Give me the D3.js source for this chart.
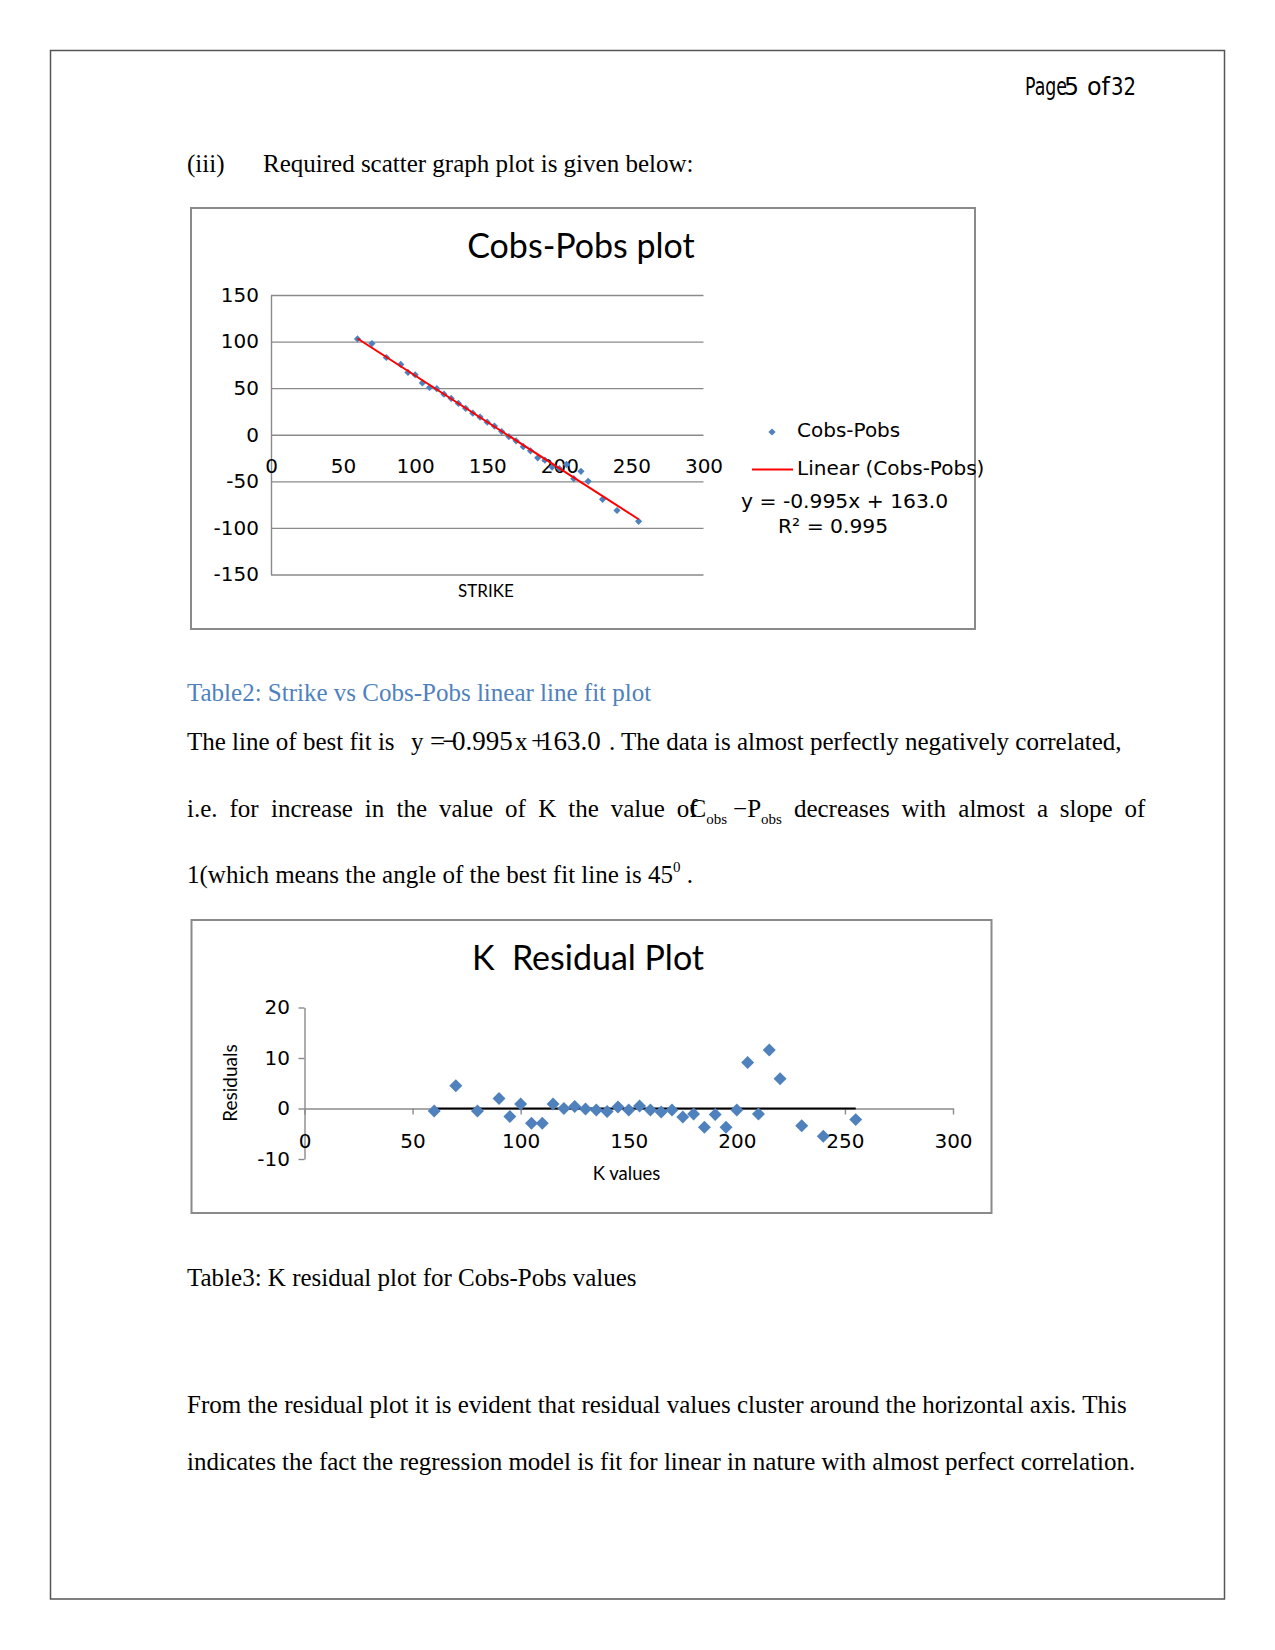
<!DOCTYPE html>
<html>
<head>
<meta charset="utf-8">
<script src="https://cdn.jsdelivr.net/npm/d3@7"></script>
<style>
  html, body { margin: 0; padding: 0; background: #fff; }
  svg { display: block; }
  text { white-space: pre; }
</style>
</head>
<body>
<svg id="page" width="1275" height="1650"></svg>
<script>
// ---------------- DATA ----------------
const kValues = [60, 70, 80, 90, 95, 100, 105, 110, 115, 120, 125, 130, 135, 140, 145, 150, 155,
                 160, 165, 170, 175, 180, 185, 190, 195, 200, 205, 210, 215, 220, 230, 240, 255];
const cobsPobs = [102.8, 97.9, 82.9, 75.5, 66.9, 64.4, 55.6, 50.7, 49.5, 43.6, 39.0, 33.6, 28.4, 23.1, 19.0, 13.5, 9.3,
                  3.5, -1.9, -6.5, -12.8, -17.2, -24.8, -27.3, -34.7, -36.3, -31.9, -47.1, -39.3, -50.0, -69.3, -81.3, -92.9];
const residuals = [-0.5, 4.5, -0.5, 2.0, -1.6, 0.9, -2.9, -2.9, 0.9, 0.0, 0.4, -0.1, -0.3, -0.6, 0.3, -0.3, 0.5,
                   -0.3, -0.7, -0.3, -1.7, -1.1, -3.7, -1.2, -3.7, -0.3, 9.1, -1.1, 11.6, 5.9, -3.4, -5.5, -2.2];
const trendSlope = -0.995;
const trendIntercept = 163.0;
const xTicks = [0, 50, 100, 150, 200, 250, 300];
const yTicksPlot1 = [-150, -100, -50, 0, 50, 100, 150];
const yTicksPlot2 = [-10, 0, 10, 20];
const title1 = "Cobs-Pobs plot";
const title2 = "K  Residual Plot";
const legendLabels = ["Cobs-Pobs", "Linear (Cobs-Pobs)"];
const equationText = "y = -0.995x + 163.0";
const r2Text = "R\u00B2 = 0.995";

// ---------------- STYLE ----------------
const BLUE = "#4F81BD";
const GRID = "#8a8a8a";
const TICKFONT = "'DejaVu Sans', sans-serif";
const CALIBRI = "Lato, 'Open Sans', sans-serif";
const SERIF = "'Liberation Serif', 'Times New Roman', serif";
const plainFmt = d => String(d);   // hyphen-minus as in the reference

const svg = d3.select("#page");
svg.append("rect").attr("width", 1275).attr("height", 1650).attr("fill", "#fff");

// page border
svg.append("rect").attr("x", 50.5).attr("y", 50.5).attr("width", 1174).attr("height", 1548.5)
  .attr("fill", "none").attr("stroke", "#555").attr("stroke-width", 1.5);

// square diamond symbol
const diamondSq = { draw(ctx, size) { const r = Math.sqrt(size / 2);
  ctx.moveTo(0, -r); ctx.lineTo(r, 0); ctx.lineTo(0, r); ctx.lineTo(-r, 0); ctx.closePath(); } };

// ---------------- header ----------------
const hdr = [["Page", 1025, 42], ["5", 1064, 15], ["of", 1087, 23], ["32", 1111, 25]];
hdr.forEach(([t, x, w]) => {
  svg.append("text").attr("x", x).attr("y", 95).attr("font-family", TICKFONT).attr("font-size", 25)
    .attr("textLength", w).attr("lengthAdjust", "spacingAndGlyphs").attr("fill", "#000").text(t);
});

// ---------------- body text ----------------
function bodyText(x, y, str, opts = {}) {
  return svg.append("text").attr("x", x).attr("y", y).attr("font-family", SERIF)
    .attr("font-size", opts.size || 25).attr("fill", opts.fill || "#000").text(str);
}
bodyText(187, 172, "(iii)");
bodyText(263, 172, "Required scatter graph plot is given below:");
bodyText(187, 701, "Table2: Strike vs Cobs-Pobs linear line fit plot", { fill: "#4F81BD" });

// line with the fit equation
bodyText(187, 750, "The line of best fit is");
[["y", 411, 25], ["=", 430, 27], ["\u2212", 442, 27], ["0.995", 452, 27], ["x", 515, 25], ["+", 531, 27], ["163.0", 540, 27]]
  .forEach(([t, x, s]) => bodyText(x, 750, t, { size: s }));
bodyText(609, 750, ". The data is almost perfectly negatively correlated,");

// justified line: i.e. for increase ...
(function () {
  const y = 817, x0 = 187, x1 = 1146;
  const words = ["i.e.", "for", "increase", "in", "the", "value", "of", "K", "the", "value", "GROUP",
                 "decreases", "with", "almost", "a", "slope", "of"];
  const nodes = words.map(w => {
    if (w !== "GROUP") return bodyText(0, y, w);
    const g = svg.append("text").attr("x", 0).attr("y", y).attr("font-family", SERIF).attr("font-size", 25);
    g.append("tspan").text("of");
    g.append("tspan").attr("dx", -8).text("C");
    g.append("tspan").attr("font-size", 15).attr("dy", 7).text("obs");
    g.append("tspan").attr("font-size", 25).attr("dy", -7).attr("dx", 6).text("\u2212P");
    g.append("tspan").attr("font-size", 15).attr("dy", 7).text("obs");
    return g;
  });
  const widths = nodes.map(n => n.node().getBBox().width);
  const total = d3.sum(widths);
  const gap = (x1 - x0 - total) / (nodes.length - 1);
  let cx = x0;
  nodes.forEach((n, i) => { n.attr("x", cx); cx += widths[i] + gap; });
})();

(function () {
  const t = bodyText(187, 883, "1(which means the angle of the best fit line is 45");
  t.append("tspan").attr("font-size", 15).attr("dy", -11).text("0");
  t.append("tspan").attr("font-size", 25).attr("dy", 11).text(" .");
})();

bodyText(187, 1286, "Table3: K residual plot for Cobs-Pobs values");
bodyText(187, 1413, "From the residual plot it is evident that residual values cluster around the horizontal axis. This");
bodyText(187, 1470, "indicates the fact the regression model is fit for linear in nature with almost perfect correlation.");

// ================= CHART 1 : Cobs-Pobs plot =================
svg.append("rect").attr("x", 191).attr("y", 208).attr("width", 784).attr("height", 421)
  .attr("fill", "#fff").attr("stroke", GRID).attr("stroke-width", 2);

const x1 = d3.scaleLinear().domain([0, 300]).range([271, 703.5]);
const y1 = d3.scaleLinear().domain([-150, 150]).range([574.5, 295]);

svg.append("text").attr("x", 581).attr("y", 258).attr("text-anchor", "middle")
  .attr("font-family", CALIBRI).attr("font-size", 34).attr("fill", "#000").text(title1);

const yAx1 = svg.append("g").attr("transform", `translate(${x1(0)},0)`)
  .call(d3.axisLeft(y1).tickValues(yTicksPlot1).tickFormat(plainFmt)
    .tickSize(-(x1(300) - x1(0))).tickSizeOuter(0).tickPadding(12));
yAx1.selectAll(".tick line").attr("stroke", GRID).attr("stroke-width", 1.4);
yAx1.select(".domain").attr("stroke", GRID).attr("stroke-width", 1.4);
yAx1.selectAll(".tick text").attr("font-family", TICKFONT).attr("font-size", 20).attr("fill", "#000");

const xAx1 = svg.append("g").attr("transform", `translate(0,${473 - 0.71 * 20})`)
  .call(d3.axisBottom(x1).tickValues(xTicks).tickFormat(plainFmt).tickSize(0).tickPadding(0));
xAx1.select(".domain").remove();
xAx1.selectAll(".tick text").attr("font-family", TICKFONT).attr("font-size", 20).attr("fill", "#000");

const sym1 = d3.symbol().type(diamondSq).size(26);
svg.append("g").selectAll("path").data(kValues).join("path")
  .attr("transform", (d, i) => `translate(${x1(d)},${y1(cobsPobs[i])})`)
  .attr("d", sym1).attr("fill", BLUE);

const kExt = d3.extent(kValues);
svg.append("path")
  .datum(kExt.map(k => [k, trendSlope * k + trendIntercept]))
  .attr("d", d3.line().x(d => x1(d[0])).y(d => y1(d[1])))
  .attr("stroke", "#ff0000").attr("stroke-width", 2).attr("fill", "none");

svg.append("text").attr("x", 486).attr("y", 597).attr("text-anchor", "middle")
  .attr("font-family", CALIBRI).attr("font-size", 17).attr("fill", "#000").text("STRIKE");

// legend
svg.append("path").attr("transform", "translate(772,432)").attr("d", sym1).attr("fill", BLUE);
svg.append("text").attr("x", 797).attr("y", 437).attr("font-family", TICKFONT).attr("font-size", 20).text(legendLabels[0]);
svg.append("line").attr("x1", 752).attr("x2", 793).attr("y1", 469.5).attr("y2", 469.5)
  .attr("stroke", "#ff0000").attr("stroke-width", 2);
svg.append("text").attr("x", 797).attr("y", 475).attr("font-family", TICKFONT).attr("font-size", 20).text(legendLabels[1]);
svg.append("text").attr("x", 741).attr("y", 508).attr("font-family", TICKFONT).attr("font-size", 20.3).text(equationText);
svg.append("text").attr("x", 778).attr("y", 533).attr("font-family", TICKFONT).attr("font-size", 20.3).text(r2Text);

// ================= CHART 2 : K Residual Plot =================
svg.append("rect").attr("x", 191.5).attr("y", 920).attr("width", 800).attr("height", 293)
  .attr("fill", "#fff").attr("stroke", GRID).attr("stroke-width", 2);

const x2 = d3.scaleLinear().domain([0, 300]).range([304.5, 953]);
const y2 = d3.scaleLinear().domain([-10, 20]).range([1159, 1007.5]);

svg.append("text").attr("x", 588).attr("y", 970).attr("text-anchor", "middle")
  .attr("font-family", CALIBRI).attr("font-size", 34).attr("fill", "#000").text(title2);

const yAx2 = svg.append("g").attr("transform", `translate(${x2(0)},0)`)
  .call(d3.axisLeft(y2).tickValues(yTicksPlot2).tickFormat(plainFmt).tickSize(6).tickSizeOuter(0).tickPadding(8.5));
yAx2.selectAll(".tick line").attr("stroke", GRID).attr("stroke-width", 1.4);
yAx2.select(".domain").attr("stroke", GRID).attr("stroke-width", 1.4);
yAx2.selectAll(".tick text").attr("font-family", TICKFONT).attr("font-size", 20).attr("fill", "#000");

const xAx2 = svg.append("g").attr("transform", `translate(0,${y2(0)})`)
  .call(d3.axisBottom(x2).tickValues(xTicks).tickSize(6).tickSizeOuter(0).tickFormat(""));
xAx2.selectAll(".tick line").attr("stroke", GRID).attr("stroke-width", 1.4);
xAx2.select(".domain").attr("stroke", GRID).attr("stroke-width", 1.4);

const xAx2L = svg.append("g").attr("transform", `translate(0,${1147.5 - 0.71 * 20})`)
  .call(d3.axisBottom(x2).tickValues(xTicks).tickFormat(plainFmt).tickSize(0).tickPadding(0));
xAx2L.select(".domain").remove();
xAx2L.selectAll(".tick text").attr("font-family", TICKFONT).attr("font-size", 20).attr("fill", "#000");

// zero line series
svg.append("path")
  .datum(kExt.map(k => [k, 0]))
  .attr("d", d3.line().x(d => x2(d[0])).y(d => y2(d[1])))
  .attr("stroke", "#000").attr("stroke-width", 2.2).attr("fill", "none");

const sym2 = d3.symbol().type(diamondSq).size(84);
svg.append("g").selectAll("path").data(kValues).join("path")
  .attr("transform", (d, i) => `translate(${x2(d)},${y2(residuals[i])})`)
  .attr("d", sym2).attr("fill", BLUE);

svg.append("text").attr("x", 626.5).attr("y", 1180).attr("text-anchor", "middle")
  .attr("font-family", CALIBRI).attr("font-size", 18.5).attr("fill", "#000").text("K values");
svg.append("text").attr("transform", "translate(237,1083) rotate(-90)").attr("text-anchor", "middle")
  .attr("font-family", CALIBRI).attr("font-size", 19).attr("fill", "#000").text("Residuals");
</script>
</body>
</html>
